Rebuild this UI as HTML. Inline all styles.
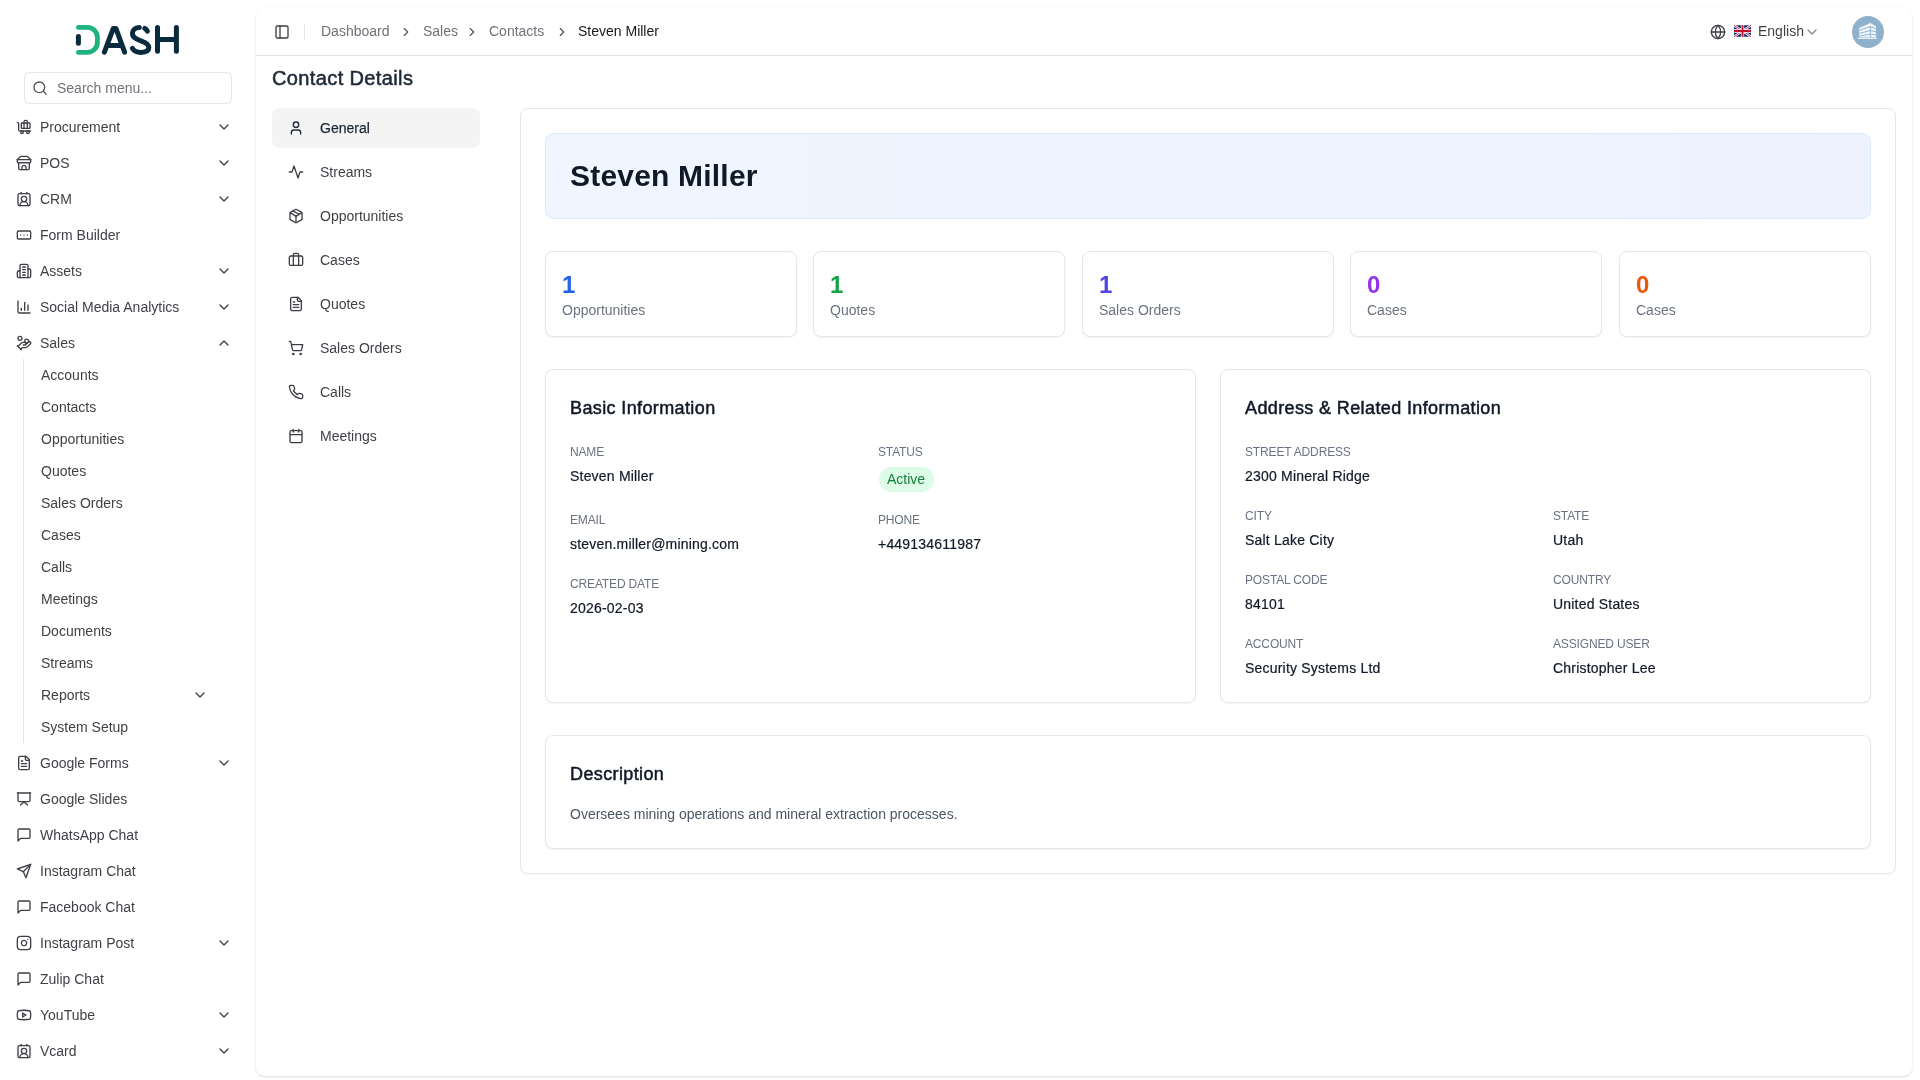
<!DOCTYPE html>
<html><head><meta charset="utf-8">
<style>
*{box-sizing:border-box;margin:0;padding:0}
html,body{width:1920px;height:1080px;overflow:hidden;background:#fff;font-family:"Liberation Sans",sans-serif;color:#111827}
svg{display:block}
.ic{fill:none;stroke:currentColor;stroke-linecap:round;stroke-linejoin:round;position:absolute}
.t{position:absolute;white-space:nowrap;line-height:16px}
body{will-change:transform}
#sb{position:absolute;left:0;top:0;width:255px;height:1080px;background:#fff;color:#3f3f46;font-size:14px}
#sb .ic{stroke-width:2}
.search{position:absolute;left:24px;top:72px;width:208px;height:32px;border:1px solid #e5e7eb;border-radius:6px}
</style></head><body>
<svg width="0" height="0" style="position:absolute">
<defs>
<symbol id="chev-d" viewBox="0 0 24 24"><path d="m6 9 6 6 6-6"/></symbol>
<symbol id="chev-u" viewBox="0 0 24 24"><path d="m18 15-6-6-6 6"/></symbol>
<symbol id="chev-r" viewBox="0 0 24 24"><path d="m9 18 6-6-6-6"/></symbol>
<symbol id="search" viewBox="0 0 24 24"><circle cx="11" cy="11" r="8"/><path d="m21 21-4.3-4.3"/></symbol>
<symbol id="baggage" viewBox="0 0 24 24"><path d="M22 18H6a2 2 0 0 1-2-2V7a2 2 0 0 0-2-2"/><path d="M17 14V4a2 2 0 0 0-2-2h-1a2 2 0 0 0-2 2v10"/><rect width="13" height="8" x="8" y="6" rx="1"/><circle cx="18" cy="20" r="2"/><circle cx="9" cy="20" r="2"/></symbol>
<symbol id="store" viewBox="0 0 24 24"><path d="m2 7 4.41-4.41A2 2 0 0 1 7.83 2h8.34a2 2 0 0 1 1.42.59L22 7"/><path d="M4 12v8a2 2 0 0 0 2 2h12a2 2 0 0 0 2-2v-8"/><path d="M15 22v-4a2 2 0 0 0-2-2h-2a2 2 0 0 0-2 2v4"/><path d="M2 7h20"/><path d="M22 7v3a2 2 0 0 1-2 2a2.7 2.7 0 0 1-1.59-.63.7.7 0 0 0-.82 0A2.7 2.7 0 0 1 16 12a2.7 2.7 0 0 1-1.59-.63.7.7 0 0 0-.82 0A2.7 2.7 0 0 1 12 12a2.7 2.7 0 0 1-1.59-.63.7.7 0 0 0-.82 0A2.7 2.7 0 0 1 8 12a2.7 2.7 0 0 1-1.59-.63.7.7 0 0 0-.82 0A2.7 2.7 0 0 1 4 12a2 2 0 0 1-2-2V7"/></symbol>
<symbol id="contact" viewBox="0 0 24 24"><path d="M16 2v2"/><path d="M17.915 22a6 6 0 0 0-12 0"/><path d="M8 2v2"/><circle cx="12" cy="12" r="4"/><rect x="3" y="4" width="18" height="18" rx="2"/></symbol>
<symbol id="rect-ell" viewBox="0 0 24 24"><rect width="20" height="12" x="2" y="6" rx="2"/><path d="M12 12h.01"/><path d="M17 12h.01"/><path d="M7 12h.01"/></symbol>
<symbol id="building" viewBox="0 0 24 24"><path d="M6 22V4a2 2 0 0 1 2-2h8a2 2 0 0 1 2 2v18Z"/><path d="M6 12H4a2 2 0 0 0-2 2v6a2 2 0 0 0 2 2h2"/><path d="M18 9h2a2 2 0 0 1 2 2v9a2 2 0 0 1-2 2h-2"/><path d="M10 6h4"/><path d="M10 10h4"/><path d="M10 14h4"/><path d="M10 18h4"/></symbol>
<symbol id="chart" viewBox="0 0 24 24"><path d="M3 3v16a2 2 0 0 0 2 2h16"/><path d="M18 17V9"/><path d="M13 17V5"/><path d="M8 17v-3"/></symbol>
<symbol id="handcoins" viewBox="0 0 24 24"><path d="M11 15h2a2 2 0 1 0 0-4h-3c-.6 0-1.1.2-1.4.6L3 17"/><path d="m7 21 1.6-1.4c.3-.4.8-.6 1.4-.6h4c1.1 0 2.1-.4 2.8-1.2l4.6-4.4a2 2 0 0 0-2.75-2.91l-4.2 3.9"/><path d="m2 16 6 6"/><circle cx="16" cy="9" r="2.9"/><circle cx="6" cy="5" r="3"/></symbol>
<symbol id="filetext" viewBox="0 0 24 24"><path d="M15 2H6a2 2 0 0 0-2 2v16a2 2 0 0 0 2 2h12a2 2 0 0 0 2-2V7Z"/><path d="M14 2v4a2 2 0 0 0 2 2h4"/><path d="M10 9H8"/><path d="M16 13H8"/><path d="M16 17H8"/></symbol>
<symbol id="present" viewBox="0 0 24 24"><path d="M2 3h20"/><path d="M21 3v11a2 2 0 0 1-2 2H5a2 2 0 0 1-2-2V3"/><path d="m7 21 5-5 5 5"/></symbol>
<symbol id="msg" viewBox="0 0 24 24"><path d="M21 15a2 2 0 0 1-2 2H7l-4 4V5a2 2 0 0 1 2-2h14a2 2 0 0 1 2 2z"/></symbol>
<symbol id="send" viewBox="0 0 24 24"><path d="m22 2-7 20-4-9-9-4Z"/><path d="M22 2 11 13"/></symbol>
<symbol id="insta" viewBox="0 0 24 24"><rect width="20" height="20" x="2" y="2" rx="5" ry="5"/><path d="M16 11.37A4 4 0 1 1 12.63 8 4 4 0 0 1 16 11.37z"/><path d="M17.5 6.5h.01"/></symbol>
<symbol id="youtube" viewBox="0 0 24 24"><path d="M2.5 17a24.12 24.12 0 0 1 0-10 2 2 0 0 1 1.4-1.4 49.56 49.56 0 0 1 16.2 0A2 2 0 0 1 21.5 7a24.12 24.12 0 0 1 0 10 2 2 0 0 1-1.4 1.4 49.550 49.55 0 0 1-16.2 0A2 2 0 0 1 2.5 17"/><path d="m10 15 5-3-5-3z"/></symbol>
<symbol id="user" viewBox="0 0 24 24"><path d="M19 21v-2a4 4 0 0 0-4-4H9a4 4 0 0 0-4 4v2"/><circle cx="12" cy="7" r="4"/></symbol>
<symbol id="activity" viewBox="0 0 24 24"><path d="M22 12h-4l-3 9L9 3l-3 9H2"/></symbol>
<symbol id="package" viewBox="0 0 24 24"><path d="M11 21.73a2 2 0 0 0 2 0l7-4A2 2 0 0 0 21 16V8a2 2 0 0 0-1-1.73l-7-4a2 2 0 0 0-2 0l-7 4A2 2 0 0 0 3 8v8a2 2 0 0 0 1 1.73z"/><path d="M12 22V12"/><path d="m3.3 7 7.703 4.734a2 2 0 0 0 1.994 0L20.7 7"/><path d="m7.5 4.27 9 5.15"/></symbol>
<symbol id="briefcase" viewBox="0 0 24 24"><path d="M16 20V4a2 2 0 0 0-2-2h-4a2 2 0 0 0-2 2v16"/><rect width="20" height="14" x="2" y="6" rx="2"/></symbol>
<symbol id="cart" viewBox="0 0 24 24"><circle cx="8" cy="21" r="1"/><circle cx="19" cy="21" r="1"/><path d="M2.05 2.05h2l2.66 12.42a2 2 0 0 0 2 1.58h9.78a2 2 0 0 0 1.95-1.57l1.65-7.43H5.12"/></symbol>
<symbol id="phone" viewBox="0 0 24 24"><path d="M22 16.920v3a2 2 0 0 1-2.18 2 19.79 19.79 0 0 1-8.63-3.07 19.5 19.5 0 0 1-6-6 19.79 19.79 0 0 1-3.07-8.67A2 2 0 0 1 4.11 2h3a2 2 0 0 1 2 1.72 12.84 12.84 0 0 0 .7 2.81 2 2 0 0 1-.45 2.11L8.090 9.91a16 16 0 0 0 6 6l1.27-1.27a2 2 0 0 1 2.11-.45 12.84 12.84 0 0 0 2.81.7A2 2 0 0 1 22 16.92z"/></symbol>
<symbol id="calendar" viewBox="0 0 24 24"><path d="M8 2v4"/><path d="M16 2v4"/><rect width="18" height="18" x="3" y="4" rx="2"/><path d="M3 10h18"/></symbol>
<symbol id="panel" viewBox="0 0 24 24"><rect width="18" height="18" x="3" y="3" rx="2"/><path d="M9 3v18"/></symbol>
<symbol id="globe" viewBox="0 0 24 24"><circle cx="12" cy="12" r="10"/><path d="M12 2a14.5 14.5 0 0 0 0 20 14.5 14.5 0 0 0 0-20"/><path d="M2 12h20"/></symbol>
</defs></svg>
<div id="sb">
 <svg style="position:absolute;left:0;top:0" width="255" height="70">
  <g fill="none" stroke-linecap="round" stroke-linejoin="round">
   <path d="M78.4,27.4 H87.5 A10,10 0 0 1 97.4,37.4 V42.4 A10,10 0 0 1 87.5,52.4 H78.4" stroke="#1db27e" stroke-width="4.8"/>
   <path d="M78.4,36.6 V43.2" stroke="#0a2b3d" stroke-width="5"/>
   <path d="M104.4,52.2 L113.2,28.6 H116 L124.6,52.2 M107.6,45.5 H121.4" stroke="#0a2b3d" stroke-width="5"/>
   <path d="M139.2,27.6 C134.6,27.6 132.4,30.6 132.4,33.6 C132.4,37.8 136.2,39.4 140.8,40.8 C145.8,42.3 148.8,44.3 148.8,47.6 C148.8,51 145.4,52.4 140.8,52.4 C136.5,52.4 134,51 132.5,48.5" stroke="#0a2b3d" stroke-width="5"/>
   <path d="M144.8,28.4 C145.8,29 146.7,30 147.3,31.2" stroke="#0a2b3d" stroke-width="5"/>
   <path d="M157.5,27.5 V51.3 M176.4,27.5 V51.3 M157.5,39.5 H176.4" stroke="#0a2b3d" stroke-width="5"/>
  </g>
 </svg>
 <div class="search">
  <svg class="ic" style="left:7px;top:7px;color:#52525b" width="16" height="16"><use href="#search"/></svg>
  <span class="t" style="left:32px;top:7px;color:#71717a">Search menu...</span>
 </div>
 <svg class="ic" style="left:16px;top:119px" width="16" height="16"><use href="#baggage"/></svg><span class="t" style="left:40px;top:119px">Procurement</span><svg class="ic" style="left:216px;top:119px" width="16" height="16"><use href="#chev-d"/></svg>
 <svg class="ic" style="left:16px;top:155px" width="16" height="16"><use href="#store"/></svg><span class="t" style="left:40px;top:155px">POS</span><svg class="ic" style="left:216px;top:155px" width="16" height="16"><use href="#chev-d"/></svg>
 <svg class="ic" style="left:16px;top:191px" width="16" height="16"><use href="#contact"/></svg><span class="t" style="left:40px;top:191px">CRM</span><svg class="ic" style="left:216px;top:191px" width="16" height="16"><use href="#chev-d"/></svg>
 <svg class="ic" style="left:16px;top:227px" width="16" height="16"><use href="#rect-ell"/></svg><span class="t" style="left:40px;top:227px">Form Builder</span>
 <svg class="ic" style="left:16px;top:263px" width="16" height="16"><use href="#building"/></svg><span class="t" style="left:40px;top:263px">Assets</span><svg class="ic" style="left:216px;top:263px" width="16" height="16"><use href="#chev-d"/></svg>
 <svg class="ic" style="left:16px;top:299px" width="16" height="16"><use href="#chart"/></svg><span class="t" style="left:40px;top:299px">Social Media Analytics</span><svg class="ic" style="left:216px;top:299px" width="16" height="16"><use href="#chev-d"/></svg>
 <svg class="ic" style="left:16px;top:335px" width="16" height="16"><use href="#handcoins"/></svg><span class="t" style="left:40px;top:335px">Sales</span><svg class="ic" style="left:216px;top:335px" width="16" height="16"><use href="#chev-u"/></svg>
 <div style="position:absolute;left:23px;top:359px;width:1px;height:384px;background:#e4e4e7"></div>
 <span class="t" style="left:41px;top:367px">Accounts</span>
 <span class="t" style="left:41px;top:399px">Contacts</span>
 <span class="t" style="left:41px;top:431px">Opportunities</span>
 <span class="t" style="left:41px;top:463px">Quotes</span>
 <span class="t" style="left:41px;top:495px">Sales Orders</span>
 <span class="t" style="left:41px;top:527px">Cases</span>
 <span class="t" style="left:41px;top:559px">Calls</span>
 <span class="t" style="left:41px;top:591px">Meetings</span>
 <span class="t" style="left:41px;top:623px">Documents</span>
 <span class="t" style="left:41px;top:655px">Streams</span>
 <span class="t" style="left:41px;top:687px">Reports</span>
 <svg class="ic" style="left:192px;top:687px" width="16" height="16"><use href="#chev-d"/></svg>
 <span class="t" style="left:41px;top:719px">System Setup</span>
 <svg class="ic" style="left:16px;top:755px" width="16" height="16"><use href="#filetext"/></svg><span class="t" style="left:40px;top:755px">Google Forms</span><svg class="ic" style="left:216px;top:755px" width="16" height="16"><use href="#chev-d"/></svg>
 <svg class="ic" style="left:16px;top:791px" width="16" height="16"><use href="#present"/></svg><span class="t" style="left:40px;top:791px">Google Slides</span>
 <svg class="ic" style="left:16px;top:827px" width="16" height="16"><use href="#msg"/></svg><span class="t" style="left:40px;top:827px">WhatsApp Chat</span>
 <svg class="ic" style="left:16px;top:863px" width="16" height="16"><use href="#send"/></svg><span class="t" style="left:40px;top:863px">Instagram Chat</span>
 <svg class="ic" style="left:16px;top:899px" width="16" height="16"><use href="#msg"/></svg><span class="t" style="left:40px;top:899px">Facebook Chat</span>
 <svg class="ic" style="left:16px;top:935px" width="16" height="16"><use href="#insta"/></svg><span class="t" style="left:40px;top:935px">Instagram Post</span><svg class="ic" style="left:216px;top:935px" width="16" height="16"><use href="#chev-d"/></svg>
 <svg class="ic" style="left:16px;top:971px" width="16" height="16"><use href="#msg"/></svg><span class="t" style="left:40px;top:971px">Zulip Chat</span>
 <svg class="ic" style="left:16px;top:1007px" width="16" height="16"><use href="#youtube"/></svg><span class="t" style="left:40px;top:1007px">YouTube</span><svg class="ic" style="left:216px;top:1007px" width="16" height="16"><use href="#chev-d"/></svg>
 <svg class="ic" style="left:16px;top:1043px" width="16" height="16"><use href="#contact"/></svg><span class="t" style="left:40px;top:1043px">Vcard</span><svg class="ic" style="left:216px;top:1043px" width="16" height="16"><use href="#chev-d"/></svg>
</div>

<div id="main">
<div style="position:absolute;left:256px;top:8px;width:1656px;height:1068px;border-radius:9px;background:#fff;box-shadow:0 1px 3px 0 rgba(0,0,0,.1),0 1px 2px -1px rgba(0,0,0,.1)"></div>
<div style="position:absolute;left:256px;top:55px;width:1656px;height:1px;background:#e4e4e7"></div>
<svg class="ic" style="left:274px;top:24px;color:#3f3f46;" width="16" height="16" stroke-width="2"><use href="#panel"/></svg>
<div style="position:absolute;left:304px;top:24px;width:1px;height:16px;background:#e5e7eb"></div>
<span class="t" style="left:321px;top:22.15px;font-size:14px;line-height:18px;font-weight:400;color:#71717a;">Dashboard</span>
<span class="t" style="left:423px;top:22.15px;font-size:14px;line-height:18px;font-weight:400;color:#71717a;">Sales</span>
<span class="t" style="left:489px;top:22.15px;font-size:14px;line-height:18px;font-weight:400;color:#71717a;">Contacts</span>
<span class="t" style="left:578px;top:22.15px;font-size:14px;line-height:18px;font-weight:400;color:#18181b;">Steven Miller</span>
<svg class="ic" style="left:399px;top:25px;color:#52525b;" width="14" height="14" stroke-width="2"><use href="#chev-r"/></svg>
<svg class="ic" style="left:465px;top:25px;color:#52525b;" width="14" height="14" stroke-width="2"><use href="#chev-r"/></svg>
<svg class="ic" style="left:555px;top:25px;color:#52525b;" width="14" height="14" stroke-width="2"><use href="#chev-r"/></svg>
<svg class="ic" style="left:1710px;top:24px;color:#3f3f46;" width="16" height="16" stroke-width="2"><use href="#globe"/></svg>
<svg style="position:absolute;left:1734px;top:25px" width="17" height="12" viewBox="0 0 60 40"><rect width="60" height="40" fill="#012169"/><path d="M0,0 L60,40 M60,0 L0,40" stroke="#fff" stroke-width="8"/><path d="M0,0 L60,40 M60,0 L0,40" stroke="#C8102E" stroke-width="3"/><path d="M30,0 V40 M0,20 H60" stroke="#fff" stroke-width="12"/><path d="M30,0 V40 M0,20 H60" stroke="#C8102E" stroke-width="7"/></svg>
<span class="t" style="left:1758px;top:22.15px;font-size:14px;line-height:18px;font-weight:400;color:#3f3f46;">English</span>
<svg class="ic" style="left:1804px;top:24px;color:#8a8a8a;" width="16" height="16" stroke-width="2"><use href="#chev-d"/></svg>
<svg style="position:absolute;left:1852px;top:16px" width="32" height="32" viewBox="0 0 32 32"><circle cx="16" cy="16" r="16" fill="#8fb1cc"/><path fill="#eef6fb" d="M7,12 L18.4,7 L24,10.3 V21.6 H7 Z"/><g stroke="#8fb1cc" stroke-width="0.9" fill="none"><path d="M7,14.4 L18.4,10.6 L24,12.6"/><path d="M7,17.4 L18.4,14.6 L24,15.8"/><path d="M7,20 L18.4,18.2 L24,18.9"/><path d="M18.4,10 V21.6"/></g><path d="M5.6,22.4 H25" stroke="#eef6fb" stroke-width="1"/></svg>
<span class="t" style="left:272px;top:65.57px;font-size:20px;line-height:25px;font-weight:400;color:#1f2937;letter-spacing:.38px;-webkit-text-stroke:.55px #1f2937">Contact Details</span>
<div style="position:absolute;left:272px;top:108px;width:208px;height:40px;background:#f4f4f5;border-radius:8px"></div>
<svg class="ic" style="left:288px;top:120px;color:#1f2937;" width="16" height="16" stroke-width="2"><use href="#user"/></svg>
<span class="t" style="left:320px;top:119.15px;font-size:14px;line-height:18px;font-weight:400;color:#1f2937;-webkit-text-stroke:.25px #1f2937">General</span>
<svg class="ic" style="left:288px;top:164px;color:#3f3f46;" width="16" height="16" stroke-width="2"><use href="#activity"/></svg>
<span class="t" style="left:320px;top:163.15px;font-size:14px;line-height:18px;font-weight:400;color:#3f3f46;">Streams</span>
<svg class="ic" style="left:288px;top:208px;color:#3f3f46;" width="16" height="16" stroke-width="2"><use href="#package"/></svg>
<span class="t" style="left:320px;top:207.15px;font-size:14px;line-height:18px;font-weight:400;color:#3f3f46;">Opportunities</span>
<svg class="ic" style="left:288px;top:252px;color:#3f3f46;" width="16" height="16" stroke-width="2"><use href="#briefcase"/></svg>
<span class="t" style="left:320px;top:251.15px;font-size:14px;line-height:18px;font-weight:400;color:#3f3f46;">Cases</span>
<svg class="ic" style="left:288px;top:296px;color:#3f3f46;" width="16" height="16" stroke-width="2"><use href="#filetext"/></svg>
<span class="t" style="left:320px;top:295.15px;font-size:14px;line-height:18px;font-weight:400;color:#3f3f46;">Quotes</span>
<svg class="ic" style="left:288px;top:340px;color:#3f3f46;" width="16" height="16" stroke-width="2"><use href="#cart"/></svg>
<span class="t" style="left:320px;top:339.15px;font-size:14px;line-height:18px;font-weight:400;color:#3f3f46;">Sales Orders</span>
<svg class="ic" style="left:288px;top:384px;color:#3f3f46;" width="16" height="16" stroke-width="2"><use href="#phone"/></svg>
<span class="t" style="left:320px;top:383.15px;font-size:14px;line-height:18px;font-weight:400;color:#3f3f46;">Calls</span>
<svg class="ic" style="left:288px;top:428px;color:#3f3f46;" width="16" height="16" stroke-width="2"><use href="#calendar"/></svg>
<span class="t" style="left:320px;top:427.15px;font-size:14px;line-height:18px;font-weight:400;color:#3f3f46;">Meetings</span>
<div style="position:absolute;left:520px;top:108px;width:1376px;height:766px;border:1px solid #e5e7eb;border-radius:8px;background:#fff;box-shadow:0 1px 2px rgba(0,0,0,.04)"></div>
<div style="position:absolute;left:545px;top:133px;width:1326px;height:86px;border:1px solid #dbeafe;border-radius:8px;background:linear-gradient(90deg,#eff6ff,#eef2ff)"></div>
<span class="t" style="left:570px;top:156.60px;font-size:30px;line-height:38px;font-weight:700;color:#111827;letter-spacing:.2px">Steven Miller</span>
<div style="position:absolute;left:545px;top:251px;width:252px;height:86px;border:1px solid #e5e7eb;border-radius:8px;background:#fff;box-shadow:0 1px 2px rgba(0,0,0,.05)"></div>
<span class="t" style="left:562px;top:269.68px;font-size:24px;line-height:30px;font-weight:700;color:#2563eb;">1</span>
<span class="t" style="left:562px;top:301.15px;font-size:14px;line-height:18px;font-weight:400;color:#6b7280;">Opportunities</span>
<div style="position:absolute;left:813px;top:251px;width:252px;height:86px;border:1px solid #e5e7eb;border-radius:8px;background:#fff;box-shadow:0 1px 2px rgba(0,0,0,.05)"></div>
<span class="t" style="left:830px;top:269.68px;font-size:24px;line-height:30px;font-weight:700;color:#16a34a;">1</span>
<span class="t" style="left:830px;top:301.15px;font-size:14px;line-height:18px;font-weight:400;color:#6b7280;">Quotes</span>
<div style="position:absolute;left:1082px;top:251px;width:252px;height:86px;border:1px solid #e5e7eb;border-radius:8px;background:#fff;box-shadow:0 1px 2px rgba(0,0,0,.05)"></div>
<span class="t" style="left:1099px;top:269.68px;font-size:24px;line-height:30px;font-weight:700;color:#4f46e5;">1</span>
<span class="t" style="left:1099px;top:301.15px;font-size:14px;line-height:18px;font-weight:400;color:#6b7280;">Sales Orders</span>
<div style="position:absolute;left:1350px;top:251px;width:252px;height:86px;border:1px solid #e5e7eb;border-radius:8px;background:#fff;box-shadow:0 1px 2px rgba(0,0,0,.05)"></div>
<span class="t" style="left:1367px;top:269.68px;font-size:24px;line-height:30px;font-weight:700;color:#9333ea;">0</span>
<span class="t" style="left:1367px;top:301.15px;font-size:14px;line-height:18px;font-weight:400;color:#6b7280;">Cases</span>
<div style="position:absolute;left:1619px;top:251px;width:252px;height:86px;border:1px solid #e5e7eb;border-radius:8px;background:#fff;box-shadow:0 1px 2px rgba(0,0,0,.05)"></div>
<span class="t" style="left:1636px;top:269.68px;font-size:24px;line-height:30px;font-weight:700;color:#ea580c;">0</span>
<span class="t" style="left:1636px;top:301.15px;font-size:14px;line-height:18px;font-weight:400;color:#6b7280;">Cases</span>
<div style="position:absolute;left:545px;top:369px;width:651px;height:334px;border:1px solid #e5e7eb;border-radius:8px;background:#fff;box-shadow:0 1px 2px rgba(0,0,0,.05)"></div>
<div style="position:absolute;left:1220px;top:369px;width:651px;height:334px;border:1px solid #e5e7eb;border-radius:8px;background:#fff;box-shadow:0 1px 2px rgba(0,0,0,.05)"></div>
<span class="t" style="left:570px;top:396.76px;font-size:18px;line-height:22px;font-weight:400;color:#111827;letter-spacing:.38px;-webkit-text-stroke:.5px #111827">Basic Information</span>
<span class="t" style="left:1245px;top:396.76px;font-size:18px;line-height:22px;font-weight:400;color:#111827;letter-spacing:.38px;-webkit-text-stroke:.5px #111827">Address &amp; Related Information</span>
<span class="t" style="left:570px;top:445.34px;font-size:12px;line-height:15px;font-weight:400;color:#6b7280;letter-spacing:-.15px">NAME</span>
<span class="t" style="left:570px;top:467.15px;font-size:14px;line-height:18px;font-weight:400;color:#111827;letter-spacing:.2px;-webkit-text-stroke:.2px #111827">Steven Miller</span>
<span class="t" style="left:878px;top:445.34px;font-size:12px;line-height:15px;font-weight:400;color:#6b7280;letter-spacing:-.15px">STATUS</span>
<div style="position:absolute;left:879px;top:467px;width:55px;height:25px;background:#dcfce7;border-radius:999px"></div>
<span class="t" style="left:887px;top:470.15px;font-size:14px;line-height:18px;font-weight:400;color:#15803d;">Active</span>
<span class="t" style="left:570px;top:513.34px;font-size:12px;line-height:15px;font-weight:400;color:#6b7280;letter-spacing:-.15px">EMAIL</span>
<span class="t" style="left:570px;top:535.15px;font-size:14px;line-height:18px;font-weight:400;color:#111827;letter-spacing:.2px;-webkit-text-stroke:.2px #111827">steven.miller@mining.com</span>
<span class="t" style="left:878px;top:513.34px;font-size:12px;line-height:15px;font-weight:400;color:#6b7280;letter-spacing:-.15px">PHONE</span>
<span class="t" style="left:878px;top:535.15px;font-size:14px;line-height:18px;font-weight:400;color:#111827;letter-spacing:.2px;-webkit-text-stroke:.2px #111827">+449134611987</span>
<span class="t" style="left:570px;top:577.34px;font-size:12px;line-height:15px;font-weight:400;color:#6b7280;letter-spacing:-.15px">CREATED DATE</span>
<span class="t" style="left:570px;top:599.15px;font-size:14px;line-height:18px;font-weight:400;color:#111827;letter-spacing:.2px;-webkit-text-stroke:.2px #111827">2026-02-03</span>
<span class="t" style="left:1245px;top:445.34px;font-size:12px;line-height:15px;font-weight:400;color:#6b7280;letter-spacing:-.15px">STREET ADDRESS</span>
<span class="t" style="left:1245px;top:467.15px;font-size:14px;line-height:18px;font-weight:400;color:#111827;letter-spacing:.2px;-webkit-text-stroke:.2px #111827">2300 Mineral Ridge</span>
<span class="t" style="left:1245px;top:509.34px;font-size:12px;line-height:15px;font-weight:400;color:#6b7280;letter-spacing:-.15px">CITY</span>
<span class="t" style="left:1245px;top:531.15px;font-size:14px;line-height:18px;font-weight:400;color:#111827;letter-spacing:.2px;-webkit-text-stroke:.2px #111827">Salt Lake City</span>
<span class="t" style="left:1553px;top:509.34px;font-size:12px;line-height:15px;font-weight:400;color:#6b7280;letter-spacing:-.15px">STATE</span>
<span class="t" style="left:1553px;top:531.15px;font-size:14px;line-height:18px;font-weight:400;color:#111827;letter-spacing:.2px;-webkit-text-stroke:.2px #111827">Utah</span>
<span class="t" style="left:1245px;top:573.34px;font-size:12px;line-height:15px;font-weight:400;color:#6b7280;letter-spacing:-.15px">POSTAL CODE</span>
<span class="t" style="left:1245px;top:595.15px;font-size:14px;line-height:18px;font-weight:400;color:#111827;letter-spacing:.2px;-webkit-text-stroke:.2px #111827">84101</span>
<span class="t" style="left:1553px;top:573.34px;font-size:12px;line-height:15px;font-weight:400;color:#6b7280;letter-spacing:-.15px">COUNTRY</span>
<span class="t" style="left:1553px;top:595.15px;font-size:14px;line-height:18px;font-weight:400;color:#111827;letter-spacing:.2px;-webkit-text-stroke:.2px #111827">United States</span>
<span class="t" style="left:1245px;top:637.34px;font-size:12px;line-height:15px;font-weight:400;color:#6b7280;letter-spacing:-.15px">ACCOUNT</span>
<span class="t" style="left:1245px;top:659.15px;font-size:14px;line-height:18px;font-weight:400;color:#111827;letter-spacing:.2px;-webkit-text-stroke:.2px #111827">Security Systems Ltd</span>
<span class="t" style="left:1553px;top:637.34px;font-size:12px;line-height:15px;font-weight:400;color:#6b7280;letter-spacing:-.15px">ASSIGNED USER</span>
<span class="t" style="left:1553px;top:659.15px;font-size:14px;line-height:18px;font-weight:400;color:#111827;letter-spacing:.2px;-webkit-text-stroke:.2px #111827">Christopher Lee</span>
<div style="position:absolute;left:545px;top:735px;width:1326px;height:114px;border:1px solid #e5e7eb;border-radius:8px;background:#fff;box-shadow:0 1px 2px rgba(0,0,0,.05)"></div>
<span class="t" style="left:570px;top:762.76px;font-size:18px;line-height:22px;font-weight:400;color:#111827;letter-spacing:.38px;-webkit-text-stroke:.5px #111827">Description</span>
<span class="t" style="left:570px;top:805.15px;font-size:14px;line-height:18px;font-weight:400;color:#4b5563;">Oversees mining operations and mineral extraction processes.</span>
</div>
</body></html>
